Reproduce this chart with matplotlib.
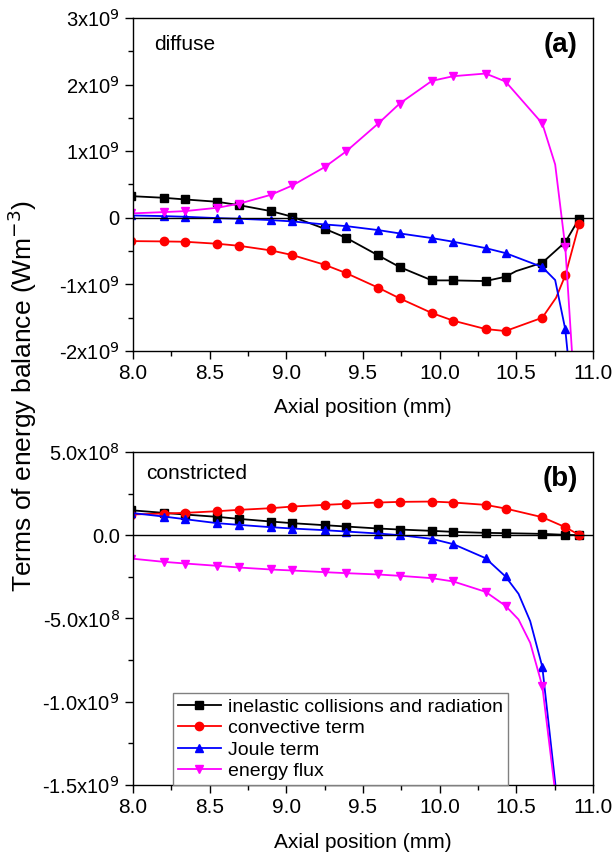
import numpy as np
import matplotlib.pyplot as plt
from matplotlib.lines import Line2D

plt.rcParams['font.family'] = ['Liberation Sans', 'DejaVu Sans']

# common axial grid of the markers (mm)
x_mk = [7.985, 8.20, 8.34, 8.55, 8.69, 8.90, 9.04, 9.25, 9.39, 9.60, 9.74,
        9.95, 10.09, 10.30, 10.43, 10.67, 10.82, 10.91]

# (a) diffuse, units of 1e9 W m^-3
a_inel = [0.325, 0.30, 0.275, 0.24, 0.19, 0.10, 0.015, -0.165, -0.30, -0.565,
          -0.74, -0.94, -0.94, -0.95, -0.885, -0.675, -0.365, -0.015]
a_conv = [-0.35, -0.355, -0.36, -0.39, -0.42, -0.49, -0.56, -0.705, -0.83,
          -1.05, -1.21, -1.43, -1.545, -1.67, -1.70, -1.50, -0.865, -0.10]
a_joule = [0.035, 0.025, 0.015, -0.005, -0.015, -0.035, -0.055, -0.10, -0.125,
           -0.185, -0.235, -0.305, -0.36, -0.455, -0.53, -0.74, -1.675]
a_flux = [0.065, 0.085, 0.10, 0.15, 0.21, 0.345, 0.485, 0.76, 0.995, 1.415,
          1.715, 2.055, 2.125, 2.165, 2.045, 1.415, -0.44]
# extra line points between / after markers
a_inel_x, a_inel_y = [10.50], [-0.80]
a_conv_x, a_conv_y = [10.76], [-1.20]
a_joule_x, a_joule_y = [10.754, 10.86], [-0.935, -2.6]
a_flux_x, a_flux_y = [10.754, 10.88], [0.80, -2.6]

# (b) constricted, units of 1e8 W m^-3
b_inel = [1.50, 1.34, 1.24, 1.10, 0.98, 0.82, 0.72, 0.60, 0.52, 0.40, 0.34,
          0.26, 0.20, 0.14, 0.12, 0.08, 0.02, 0.0]
b_conv = [1.24, 1.30, 1.34, 1.44, 1.52, 1.62, 1.72, 1.82, 1.88, 1.96, 2.00,
          2.02, 1.96, 1.82, 1.60, 1.08, 0.48, 0.02]
b_joule = [1.34, 1.12, 0.96, 0.72, 0.62, 0.48, 0.40, 0.30, 0.22, 0.10, 0.0,
           -0.22, -0.54, -1.38, -2.48, -7.9]
b_flux = [-1.40, -1.60, -1.70, -1.84, -1.94, -2.06, -2.12, -2.22, -2.28, -2.36,
          -2.44, -2.58, -2.78, -3.40, -4.24, -9.06]
b_joule_x, b_joule_y = [10.515, 10.591, 10.78], [-3.52, -5.16, -17.0]
b_flux_x, b_flux_y = [10.515, 10.591, 10.775], [-5.06, -6.46, -17.0]

labels = ['inelastic collisions and radiation', 'convective term',
          'Joule term', 'energy flux']
colors = ['black', '#ff0000', '#0000ff', '#ff00ff']
marks = ['s', 'o', '^', 'v']


def draw(ax, y, xe, ye, scale, c, m):
    n = len(y)
    xs = np.array(x_mk[:n] + xe)
    ys = np.array(y + ye) * scale
    o = np.argsort(xs)
    ax.plot(xs[o], ys[o], color=c, lw=1.3)
    ax.plot(x_mk[:n], np.array(y) * scale, ls='none', marker=m, color=c, ms=6)


fig = plt.figure(figsize=(6.14, 8.52), dpi=100)
ax1 = fig.add_axes([0.2166, 0.588, 0.749, 0.391])
ax2 = fig.add_axes([0.2166, 0.0786, 0.749, 0.391])

draw(ax1, a_inel, a_inel_x, a_inel_y, 1e9, colors[0], marks[0])
draw(ax1, a_conv, a_conv_x, a_conv_y, 1e9, colors[1], marks[1])
draw(ax1, a_joule, a_joule_x, a_joule_y, 1e9, colors[2], marks[2])
draw(ax1, a_flux, a_flux_x, a_flux_y, 1e9, colors[3], marks[3])

draw(ax2, b_inel, [], [], 1e8, colors[0], marks[0])
draw(ax2, b_conv, [], [], 1e8, colors[1], marks[1])
draw(ax2, b_joule, b_joule_x, b_joule_y, 1e8, colors[2], marks[2])
draw(ax2, b_flux, b_flux_x, b_flux_y, 1e8, colors[3], marks[3])

ax1.set_ylim(-2e9, 3e9)
ax1.set_yticks([-2e9, -1e9, 0, 1e9, 2e9, 3e9])
ax1.set_yticklabels(['-2x10$^9$', '-1x10$^9$', '0', '1x10$^9$', '2x10$^9$', '3x10$^9$'])
ax1.set_yticks(np.arange(-1.5e9, 3e9, 1e9), minor=True)

ax2.set_ylim(-1.5e9, 5e8)
ax2.set_yticks([-1.5e9, -1e9, -5e8, 0, 5e8])
ax2.set_yticklabels(['-1.5x10$^9$', '-1.0x10$^9$', '-5.0x10$^8$', '0.0', '5.0x10$^8$'])
ax2.set_yticks(np.arange(-1.25e9, 5e8, 5e8), minor=True)

for ax in (ax1, ax2):
    ax.axhline(0, color='black', lw=1)
    ax.set_xlim(8, 11)
    ax.set_xticks([8.0, 8.5, 9.0, 9.5, 10.0, 10.5, 11.0])
    ax.set_xticklabels(['8.0', '8.5', '9.0', '9.5', '10.0', '10.5', '11.0'])
    ax.set_xticks(np.arange(8.25, 11, 0.5), minor=True)
    ax.tick_params(which='major', direction='out', length=6, width=1, labelsize=14.5)
    ax.tick_params(axis='x', labelsize=15)
    ax.tick_params(which='minor', direction='out', length=3.5, width=1)
    ax.set_xlabel('Axial position (mm)', fontsize=15, labelpad=11)
    for s in ax.spines.values():
        s.set_linewidth(1)

ax1.text(0.045, 0.92, 'diffuse', transform=ax1.transAxes, fontsize=15,
         va='center', ha='left')
ax1.text(0.967, 0.92, '(a)', transform=ax1.transAxes, fontsize=20,
         fontweight='bold', va='center', ha='right')
ax2.text(0.028, 0.934, 'constricted', transform=ax2.transAxes, fontsize=15,
         va='center', ha='left')
ax2.text(0.967, 0.92, '(b)', transform=ax2.transAxes, fontsize=20,
         fontweight='bold', va='center', ha='right')

handles = [Line2D([], [], color=c, marker=m, lw=1.3, ms=6)
           for c, m in zip(colors, marks)]
leg = ax2.legend(handles, labels, loc='lower left', bbox_to_anchor=(0.087, 0.0),
                 borderaxespad=0, fontsize=14, handlelength=2.2,
                 labelspacing=0.2, handletextpad=0.4, borderpad=0.25,
                 fancybox=False, framealpha=1, edgecolor='#808080')
leg.get_frame().set_linewidth(1)

fig.text(0.036, 0.535, 'Terms of energy balance (Wm$^{-3}$)', rotation=90,
         fontsize=19, va='center', ha='center')

fig.savefig('out.png', dpi=100)
